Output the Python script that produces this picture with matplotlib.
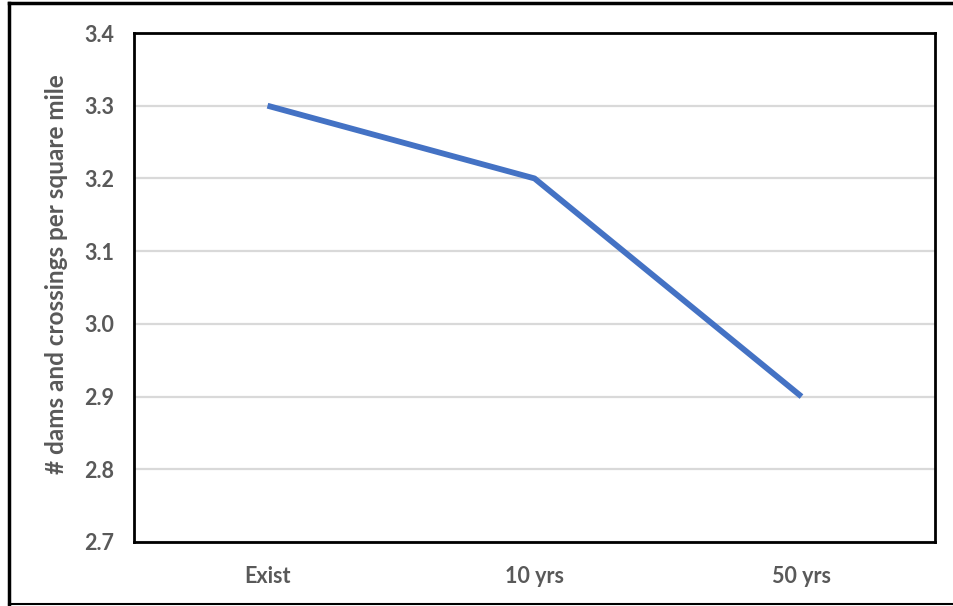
import matplotlib
matplotlib.use("Agg")
import matplotlib.pyplot as plt
from matplotlib.lines import Line2D

categories = ["Exist", "10 yrs", "50 yrs"]
values = [3.3, 3.2, 2.9]
yticks = [2.7, 2.8, 2.9, 3.0, 3.1, 3.2, 3.3, 3.4]
ylabel = "# dams and crossings per square mile"

W, H = 954, 606
fig = plt.figure(figsize=(W / 100, H / 100), dpi=100)
plt.rcParams['font.family'] = ['Lato', 'DejaVu Sans']

left, right, top, bottom = 134, 935, 33, 542
ax = fig.add_axes([left / W, 1 - bottom / H, (right - left) / W, (bottom - top) / H])

ax.plot(range(len(categories)), values, color="#4472C4", linewidth=4.2,
        solid_capstyle="butt", zorder=3)
ax.set_xlim(-0.5, len(categories) - 0.5)
ax.set_ylim(2.7, 3.4)
ax.set_yticks(yticks)
ax.set_yticklabels([f"{v:.1f}" for v in yticks])
ax.set_xticks(range(len(categories)))
ax.set_xticklabels(categories)
ax.grid(axis="y", color="#d9d9d9", linewidth=1.6, zorder=0)
ax.set_axisbelow(True)
ax.tick_params(length=0, labelsize=15.5, labelcolor="#595959")
ax.tick_params(axis="y", pad=14)
ax.tick_params(axis="x", pad=17)
for lab in ax.get_xticklabels() + ax.get_yticklabels():
    lab.set_fontweight("bold")
for s in ax.spines.values():
    s.set_color("black")
    s.set_linewidth(2)
ax.set_ylabel(ylabel, fontsize=17.5, fontweight="bold", color="#595959")
ax.yaxis.set_label_coords(-0.082, 0.527)

# outer frame
lw = 2.5
fig.add_artist(Line2D([9 / W, 9 / W], [0, 1 - 3 / H], transform=fig.transFigure, color="black", linewidth=lw))
fig.add_artist(Line2D([9 / W, 1], [1 - 3 / H, 1 - 3 / H], transform=fig.transFigure, color="black", linewidth=lw))
fig.add_artist(Line2D([9 / W, 1], [1 - 604 / H, 1 - 604 / H], transform=fig.transFigure, color="black", linewidth=1.5))

fig.savefig("out.png", dpi=100)
